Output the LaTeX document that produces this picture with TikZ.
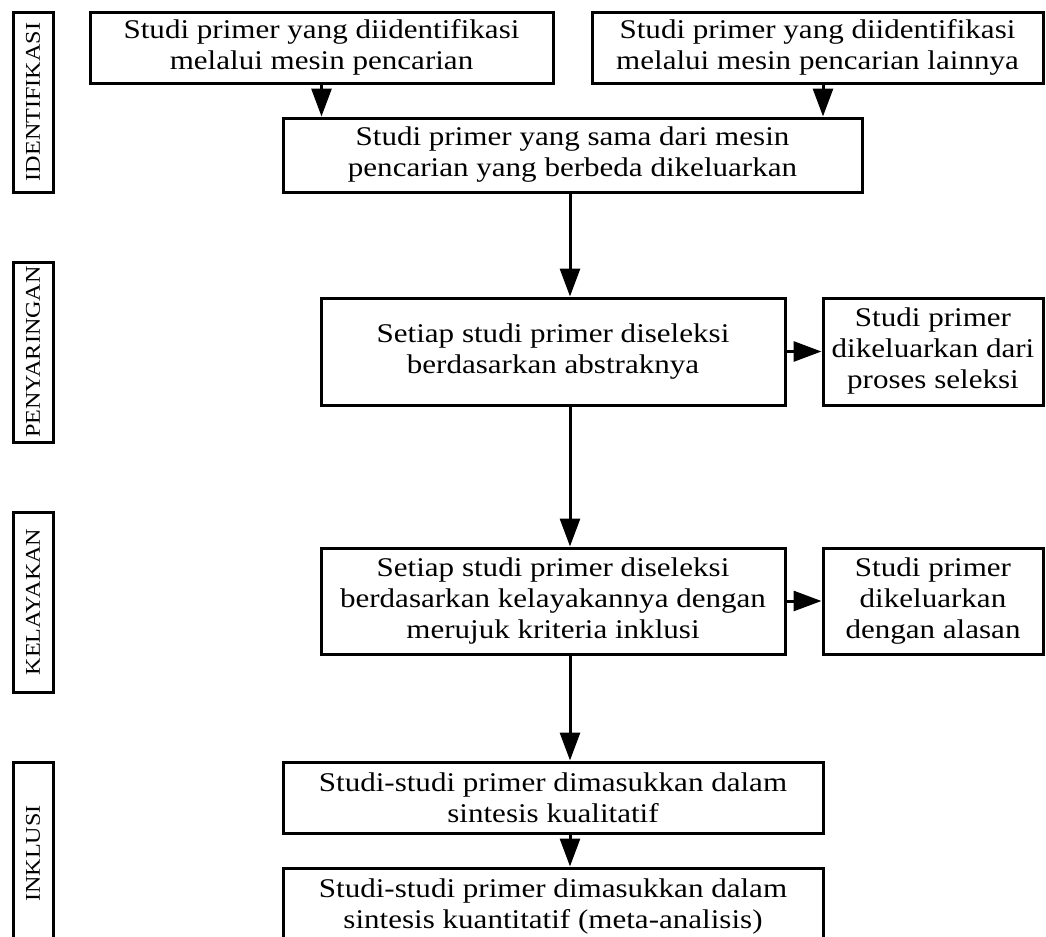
\documentclass[tikz,border=0pt]{standalone}
\usepackage{fontspec}
\setmainfont{Liberation Serif}[FakeStretch=1.15]
\usetikzlibrary{arrows.meta}
\begin{document}
\begin{tikzpicture}[x=0.5pt,y=-0.5pt,
  box/.style={draw,line width=1.5pt,inner sep=0pt,align=center,
    font=\fontsize{13.5pt}{15.5pt}\selectfont},
  stage/.style={draw,line width=1.5pt,inner sep=0pt,rotate=90,
    minimum height=20pt,font=\fontsize{10.5pt}{12pt}\selectfont},
  arr/.style={line width=1.5pt,-{Triangle[length=14pt,width=10pt]}}]
\useasboundingbox (0,0) rectangle (1046,937);
\clip (0,0) rectangle (1046,937);
% stage labels
\node[stage,minimum width=90pt] (s1) at (33,102) {IDENTIFIKASI};
\node[stage,minimum width=90pt] (s2) at (33,352) {PENYARINGAN};
\node[stage,minimum width=90pt] (s3) at (33,602) {KELAYAKAN};
\node[stage,minimum width=91.5pt] (s4) at (33,853.5) {INKLUSI};
% boxes
\node[box,minimum width=231.5pt,minimum height=35.5pt] (A) at (321.5,47.5) {Studi primer yang diidentifikasi\\melalui mesin pencarian};
\node[box,minimum width=225.5pt,minimum height=35.5pt] (B) at (817.5,47.5) {Studi primer yang diidentifikasi\\melalui mesin pencarian lainnya};
\node[box,minimum width=289.5pt,minimum height=37pt] (C) at (572.5,155) {Studi primer yang sama dari mesin\\pencarian yang berbeda dikeluarkan};
\node[box,minimum width=232pt,minimum height=53.5pt] (D) at (553,351.5) {Setiap studi primer diseleksi\\berdasarkan abstraknya};
\node[box,minimum width=110pt,minimum height=53.5pt] (E) at (933,351.5) {Studi primer\\dikeluarkan dari\\proses seleksi};
\node[box,minimum width=232pt,minimum height=53pt] (F) at (553,601) {Setiap studi primer diseleksi\\berdasarkan kelayakannya dengan\\merujuk kriteria inklusi};
\node[box,minimum width=110pt,minimum height=53pt] (G) at (933,601) {Studi primer\\dikeluarkan\\dengan alasan};
\node[box,minimum width=270pt,minimum height=35.5pt] (H) at (553,797.5) {Studi-studi primer dimasukkan dalam\\sintesis kualitatif};
\node[box,minimum width=270pt,minimum height=39pt] (I) at (553,907) {Studi-studi primer dimasukkan dalam\\sintesis kuantitatif (meta-analisis)};
% helper x positions
\coordinate (sp) at (570,0);
\coordinate (bx) at (823,0);
% arrows
\draw[arr] (A.south) -- (A.south |- C.north);
\draw[arr] (B.south -| bx) -- (C.north -| bx);
\draw[arr] (C.south -| sp) -- (D.north -| sp);
\draw[arr] (D.south -| sp) -- (F.north -| sp);
\draw[arr] (D.east) -- (E.west);
\draw[arr] (F.south -| sp) -- (H.north -| sp);
\draw[arr] (F.east) -- (G.west);
\draw[arr] (H.south -| sp) -- (I.north -| sp);
\end{tikzpicture}
\end{document}
